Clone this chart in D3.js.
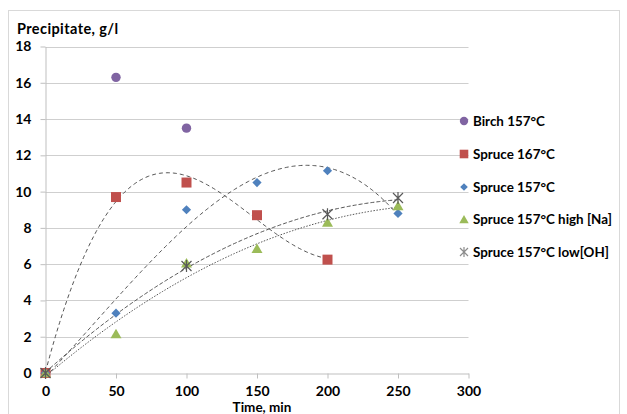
<!DOCTYPE html>
<html>
<head>
<meta charset="utf-8">
<script src="https://cdn.jsdelivr.net/npm/d3@7"></script>
<style>
  html, body { margin: 0; padding: 0; background: #fff; }
  svg { display: block; font-family: Lato, "Open Sans", sans-serif; font-weight: bold; }
</style>
</head>
<body>
<svg id="chart" width="627" height="414"></svg>
<script>
// Sampling times (min)
const timeTicks = [0, 50, 100, 150, 200, 250, 300];
const yTicks = [0, 2, 4, 6, 8, 10, 12, 14, 16, 18];

// Precipitate (g/l) per experiment
const birch157 = [[0, 0], [50, 16.3], [100, 13.5]];
const spruce167 = [[0, 0], [50, 9.7], [100, 10.5], [150, 8.7], [200, 6.25]];
const spruce157 = [[0, 0], [50, 3.3], [100, 9.0], [150, 10.5], [200, 11.15], [250, 8.8]];
const spruceHighNa = [[0, 0], [50, 2.15], [100, 6.05], [150, 6.85], [200, 8.3], [250, 9.2]];
const spruceLowOH = [[0, 0], [100, 5.9], [200, 8.75], [250, 9.65]];

const seriesNames = ["Birch 157°C", "Spruce 167°C", "Spruce 157°C", "Spruce 157°C high [Na]", "Spruce 157°C low[OH]"];
const seriesColors = ["#8064a2", "#c0504d", "#4f81bd", "#9bbb59", "#595959"];

const svg = d3.select("#chart");
const m = { left: 45.5, right: 468.5, top: 46.5, bottom: 373 };

// Outer chart border
svg.append("rect").attr("x", 8.5).attr("y", 10.5).attr("width", 611).attr("height", 420)
  .attr("fill", "none").attr("stroke", "#d9d9d9");

const x = d3.scaleLinear().domain([0, 300]).range([m.left, m.right]);
const y = d3.scaleLinear().domain([0, 18]).range([m.bottom, m.top]);

// Horizontal gridlines
svg.append("g").selectAll("line").data(yTicks.filter(d => d > 0)).join("line")
  .attr("x1", m.left).attr("x2", m.right)
  .attr("y1", d => Math.round(y(d)) + 0.5).attr("y2", d => Math.round(y(d)) + 0.5)
  .attr("stroke", "#cfcfcf").attr("stroke-width", 1);

// Axes
const xAxis = svg.append("g").attr("transform", `translate(0,${m.bottom + 0.5})`)
  .call(d3.axisBottom(x).tickValues(timeTicks).tickSize(5).tickSizeOuter(0).tickPadding(8));
const yAxis = svg.append("g").attr("transform", `translate(${m.left},0)`)
  .call(d3.axisLeft(y).tickValues(yTicks).tickSize(5).tickSizeOuter(0).tickPadding(9));
[xAxis, yAxis].forEach(a => {
  a.select(".domain").attr("stroke", "#bfbfbf");
  a.selectAll(".tick line").attr("stroke", "#bfbfbf");
  a.selectAll(".tick text").attr("fill", "#000").style("font-size", "14px")
    .style("font-family", "Lato, 'Open Sans', sans-serif").style("font-weight", "bold");
});

// Axis titles
svg.append("text").attr("x", 17).attr("y", 34).style("font-size", "14.5px")
  .style("letter-spacing", "0.4px").text("Precipitate, g/l");
svg.append("text").attr("x", 262).attr("y", 412).attr("text-anchor", "middle")
  .style("font-size", "13.5px").text("Time, min");

// Least-squares polynomial fit (trendline)
function polyFit(pts, order) {
  const n = order + 1, s = 100;
  const A = Array.from({ length: n }, () => new Array(n + 1).fill(0));
  pts.forEach(([px, py]) => {
    const t = px / s;
    for (let i = 0; i < n; i++) {
      for (let j = 0; j < n; j++) A[i][j] += Math.pow(t, i + j);
      A[i][n] += py * Math.pow(t, i);
    }
  });
  for (let c = 0; c < n; c++) {
    let p = c;
    for (let r = c + 1; r < n; r++) if (Math.abs(A[r][c]) > Math.abs(A[p][c])) p = r;
    [A[c], A[p]] = [A[p], A[c]];
    for (let r = 0; r < n; r++) {
      if (r === c) continue;
      const f = A[r][c] / A[c][c];
      for (let k = c; k <= n; k++) A[r][k] -= f * A[c][k];
    }
  }
  const coef = A.map((row, i) => row[n] / row[i]);
  return xv => coef.reduce((acc, cf, i) => acc + cf * Math.pow(xv / s, i), 0);
}

const trends = [
  { data: spruce167, order: 3, dash: "4,3" },
  { data: spruce157, order: 3, dash: "4,3" },
  { data: spruceHighNa, order: 2, dash: "1.5,1.5" },
  { data: spruceLowOH, order: 2, dash: "4,2" }
];
const line = d3.line().x(d => x(d[0])).y(d => y(d[1]));
trends.forEach(tr => {
  const f = polyFit(tr.data, tr.order);
  const xmax = d3.max(tr.data, d => d[0]);
  const pts = d3.range(0, xmax + 0.01, 1).map(v => [v, f(v)]);
  svg.append("path").attr("d", line(pts)).attr("fill", "none")
    .attr("stroke", "#404040").attr("stroke-width", 0.9).attr("stroke-dasharray", tr.dash);
});

// Marker shapes: circle, square, square diamond, triangle, asterisk
function markerPath(i, r) {
  switch (i) {
    case 0: return d3.symbol().type(d3.symbolCircle).size(Math.PI * r * r)();
    case 1: return `M${-r},${-r}H${r}V${r}H${-r}Z`;
    case 2: return `M0,${-r}L${r},0L0,${r}L${-r},0Z`;
    case 3: return `M0,${-r * 1.05}L${r * 1.1},${r * 0.85}H${-r * 1.1}Z`;
    default: return `M${-r},${-r}L${r},${r}M${-r},${r}L${r},${-r}M0,${-r - 1}L0,${r + 1}`;
  }
}
function drawMarker(g, i, cx, cy, r, color) {
  const p = g.append("path").attr("d", markerPath(i, r)).attr("transform", `translate(${cx},${cy})`);
  if (i === 4) p.attr("stroke", color).attr("stroke-width", 1.2).attr("fill", "none");
  else p.attr("fill", color);
}

const allSeries = [birch157, spruce167, spruce157, spruceHighNa, spruceLowOH];
const markerR = [4.7, 5, 4.6, 5, 5];
const markers = svg.append("g");
allSeries.forEach((s, i) => s.forEach(d => drawMarker(markers, i, x(d[0]), y(d[1]), markerR[i], seriesColors[i])));

// Legend
const legendY = [121, 154, 187, 219.5, 252];
const legendR = [4.2, 4.3, 3.8, 4.3, 4];
const legend = svg.append("g");
seriesNames.forEach((name, i) => {
  const ly = legendY[i];
  const g = legend.append("g");
  drawMarker(g, i, 464, ly, legendR[i], i === 4 ? "#8c8c8c" : seriesColors[i]);
  g.append("text").attr("x", 473).attr("y", ly + 4.5).style("font-size", "13.4px").text(name);
});
</script>
</body>
</html>
